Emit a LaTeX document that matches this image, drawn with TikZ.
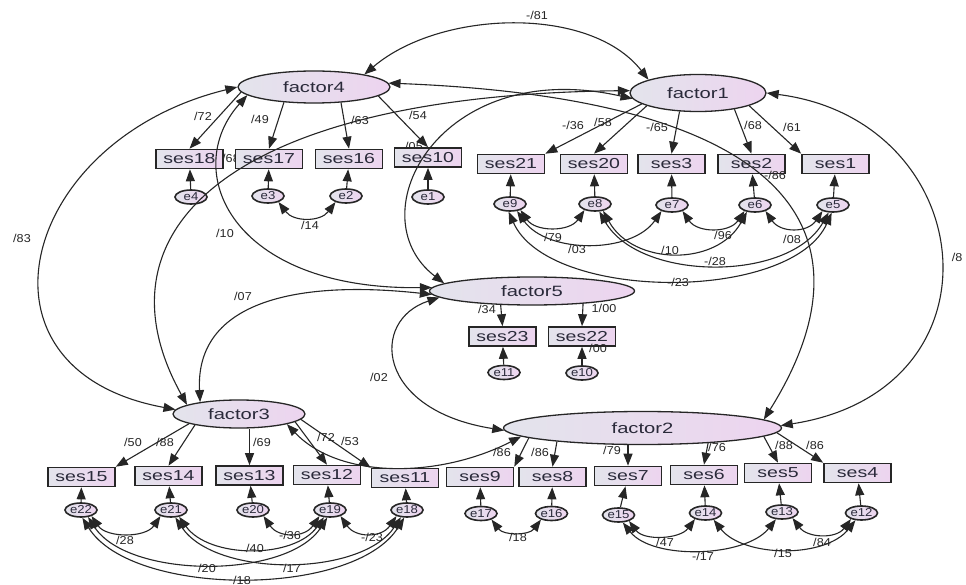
\documentclass[tikz,border=0pt]{standalone}
\usepackage{fontspec}
\setmainfont{Liberation Sans}
\usepackage{graphicx}
\usetikzlibrary{arrows.meta,shapes.geometric,calc}
\definecolor{lc}{HTML}{262626}
\definecolor{gl}{HTML}{E3E4EC}
\definecolor{gr}{HTML}{EDD4EF}
\definecolor{tx}{HTML}{2A2A3A}
\newcommand{\stx}[2]{\scalebox{#1}[1]{#2}}
\tikzset{
  base/.style={draw=lc, text=tx, inner sep=0pt, left color=gl, right color=gr},
  fac/.style={base, ellipse, line width=1.3bp, font=\fontsize{15}{15}\selectfont},
  obs/.style={base, rectangle, line width=1.6bp, minimum width=67bp, minimum height=19bp, font=\fontsize{14.5}{14.5}\selectfont},
  err/.style={base, ellipse, line width=1.6bp, minimum width=32bp, minimum height=14bp, font=\fontsize{11.5}{11.5}\selectfont},
  ld/.style={-{Triangle[length=12bp,width=9bp]}, draw=lc, line width=1.1bp},
  cv/.style={{Triangle[length=12bp,width=9bp]}-{Triangle[length=12bp,width=9bp]}, draw=lc, line width=1.1bp},
  lab/.style={font=\fontsize{11.5}{11.5}\selectfont, text=lc, inner sep=0pt}
}
\begin{document}
\begin{tikzpicture}[x=1bp,y=-1bp]
\useasboundingbox (0,0) rectangle (966,585);
\fill[white] (0,0) rectangle (966,585);
% partly hidden labels
\node[lab] (r18) at (231,158) {\stx{1.1}{/68}};
\node[lab] (r10) at (414,146) {\stx{1.1}{/05}};
% factors
\node[fac,minimum width=152bp,minimum height=32bp] (f4) at (314,87) {\stx{1.35}{factor4}};
\node[fac,minimum width=136bp,minimum height=37bp] (f1) at (698,93) {\stx{1.35}{factor1}};
\node[fac,minimum width=205bp,minimum height=28bp] (f5) at (532,291) {\stx{1.35}{factor5}};
\node[fac,minimum width=132bp,minimum height=28bp] (f3) at (239,414) {\stx{1.35}{factor3}};
\node[fac,minimum width=278bp,minimum height=33bp] (f2) at (642.5,428) {\stx{1.35}{factor2}};
% observed
\node[obs] (ses18) at (189.5,159) {\stx{1.35}{ses18}};
\node[obs] (ses17) at (269,159) {\stx{1.35}{ses17}};
\node[obs] (ses16) at (349,159) {\stx{1.35}{ses16}};
\node[obs] (ses10) at (428,157.5) {\stx{1.35}{ses10}};
\node[obs] (ses21) at (511,164) {\stx{1.35}{ses21}};
\node[obs] (ses20) at (594,164) {\stx{1.35}{ses20}};
\node[obs] (ses3) at (671.5,164) {\stx{1.35}{ses3}};
\node[obs] (ses2) at (751.5,164) {\stx{1.35}{ses2}};
\node[obs] (ses1) at (835.5,164) {\stx{1.35}{ses1}};
\node[obs] (ses23) at (502.5,336.5) {\stx{1.35}{ses23}};
\node[obs] (ses22) at (582,336.5) {\stx{1.35}{ses22}};
\node[obs] (ses15) at (81.5,477) {\stx{1.35}{ses15}};
\node[obs] (ses14) at (168.5,476) {\stx{1.35}{ses14}};
\node[obs] (ses13) at (249.5,475.5) {\stx{1.35}{ses13}};
\node[obs] (ses12) at (327,475) {\stx{1.35}{ses12}};
\node[obs] (ses11) at (405,478) {\stx{1.35}{ses11}};
\node[obs] (ses9) at (480,477) {\stx{1.35}{ses9}};
\node[obs] (ses8) at (552.5,477) {\stx{1.35}{ses8}};
\node[obs] (ses7) at (628,476) {\stx{1.35}{ses7}};
\node[obs] (ses6) at (704,475) {\stx{1.35}{ses6}};
\node[obs] (ses5) at (778,473) {\stx{1.35}{ses5}};
\node[obs] (ses4) at (857.5,473) {\stx{1.35}{ses4}};
% errors
\node[err] (e4) at (191,197) {\stx{1.15}{e4}};
\node[err] (e3) at (268,196) {\stx{1.15}{e3}};
\node[err] (e2) at (346,196) {\stx{1.15}{e2}};
\node[err] (e1) at (428,197) {\stx{1.15}{e1}};
\node[err] (e9) at (510,204) {\stx{1.15}{e9}};
\node[err] (e8) at (595,204) {\stx{1.15}{e8}};
\node[err] (e7) at (672,205) {\stx{1.15}{e7}};
\node[err] (e6) at (755,205) {\stx{1.15}{e6}};
\node[err] (e5) at (833,205) {\stx{1.15}{e5}};
\node[err] (e11) at (504,372.5) {\stx{1.15}{e11}};
\node[err] (e10) at (582,373) {\stx{1.15}{e10}};
\node[err] (e22) at (81,510) {\stx{1.15}{e22}};
\node[err] (e21) at (171,510) {\stx{1.15}{e21}};
\node[err] (e20) at (253,510) {\stx{1.15}{e20}};
\node[err] (e19) at (330,510) {\stx{1.15}{e19}};
\node[err] (e18) at (407,510) {\stx{1.15}{e18}};
\node[err] (e17) at (481,513.5) {\stx{1.15}{e17}};
\node[err] (e16) at (551.5,513.5) {\stx{1.15}{e16}};
\node[err] (e15) at (618.5,515) {\stx{1.15}{e15}};
\node[err] (e14) at (705.5,513) {\stx{1.15}{e14}};
\node[err] (e13) at (782,512) {\stx{1.15}{e13}};
\node[err] (e12) at (861.5,513) {\stx{1.15}{e12}};
% loadings
\draw[ld] (f4.184) -- (ses18.north);
\draw[ld] (f4.207) -- (ses17.north);
\draw[ld] (f4.330) -- (ses16.north);
\draw[ld] (f4.352) -- (ses10.north);
\draw[ld] (f1.191) -- (ses21.north east);
\draw[ld] (f1.194) -- (ses20.north);
\draw[ld] (f1.225) -- (ses3.north);
\draw[ld] (f1.336) -- (ses2.north);
\draw[ld] (f1.346) -- (ses1.north west);
\draw[ld] (f5.204) -- (ses23.north);
\draw[ld] (f5.346) -- (ses22.north);
\draw[ld] (f3.191) -- (ses15.north east);
\draw[ld] (f3.194) -- (ses14.north);
\draw[ld] (ses13.north |- f3.south) -- (ses13.north);
\draw[ld] (f3.352) -- (ses12.north);
\draw[ld] (f3.355) -- (ses11.north west);
\draw[ld] (f2.185) -- (ses9.north east);
\draw[ld] (f2.189) -- (ses8.north);
\draw[ld] (ses7.north |- f2.south) -- (ses7.north);
\draw[ld] (f2.347) -- (ses6.north);
\draw[ld] (f2.356) -- (ses5.north);
\draw[ld] (f2.358) -- (ses4.north west);
% error arrows
\foreach \e/\s in {e4/ses18,e3/ses17,e2/ses16,e1/ses10,e9/ses21,e8/ses20,e7/ses3,e6/ses2,e5/ses1,e11/ses23,e10/ses22,e22/ses15,e21/ses14,e20/ses13,e19/ses12,e18/ses11,e17/ses9,e16/ses8,e15/ses7,e14/ses6,e13/ses5,e12/ses4}
  \draw[ld] (\e) -- (\s);
% factor covariances
\draw[cv] (f4.14) .. controls (440,10) and (590,5) .. (f1.165);
\draw[cv] (f4.180) .. controls (20,140) and (-40,370) .. (f3.176);
\draw[cv] (f4.187) .. controls (180,170) and (230,290) .. (f5.178);
\draw[cv] (f3.163) .. controls (195,300) and (300,280) .. (f5.182);
\draw[cv] (f1.178) .. controls (230,95) and (90,230) .. (f3.170);
\draw[cv] (f1.185) .. controls (440,55) and (355,215) .. (f5.175);
\draw[cv] (f4.3) .. controls (820,100) and (870,250) .. (f2.4);
\draw[cv] (f1.0) .. controls (980,120) and (1010,390) .. (f2.1);
\draw[cv] (f5.184) .. controls (370,320) and (375,410) .. (f2.181);
\draw[cv] (f3.348) .. controls (340,480) and (440,478) .. (f2.184);
% error covariances
\draw[cv] (e3.-30) .. controls +(15,20) and +(-15,20) .. (e2.-150);
\draw[cv] (e9.-30) .. controls +(15,22) and +(-15,22) .. (e8.-150);
\draw[cv] (e9.-45) .. controls +(30,43) and +(-30,43) .. (e7.-150);
\draw[cv] (e8.-40) .. controls +(30,55) and +(-30,55) .. (e6.-140);
\draw[cv] (e7.-30) .. controls +(15,22) and +(-15,22) .. (e6.-150);
\draw[cv] (e6.-30) .. controls +(15,22) and +(-15,22) .. (e5.-150);
\draw[cv] (e8.-60) .. controls +(40,70) and +(-40,70) .. (e5.-120);
\draw[cv] (e9.-100) .. controls +(40,90) and +(-40,90) .. (e5.-100);
\draw[cv] (e17.-30) .. controls +(12,16) and +(-12,16) .. (e16.-150);
\draw[cv] (e15.-30) .. controls +(15,20) and +(-15,20) .. (e14.-150);
\draw[cv] (e15.-60) .. controls +(30,38) and +(-30,38) .. (e13.-130);
\draw[cv] (e14.-40) .. controls +(30,38) and +(-30,38) .. (e12.-130);
\draw[cv] (e13.-30) .. controls +(15,20) and +(-15,20) .. (e12.-150);
\draw[cv] (e22.-30) .. controls +(15,22) and +(-15,22) .. (e21.-150);
\draw[cv] (e20.-30) .. controls +(15,22) and +(-15,22) .. (e19.-150);
\draw[cv] (e19.-30) .. controls +(15,22) and +(-15,22) .. (e18.-150);
\draw[cv] (e21.-40) .. controls +(30,42) and +(-30,42) .. (e19.-130);
\draw[cv] (e22.-45) .. controls +(40,62) and +(-40,62) .. (e19.-110);
\draw[cv] (e21.-60) .. controls +(40,60) and +(-40,60) .. (e18.-130);
\draw[cv] (e22.-80) .. controls +(50,80) and +(-50,80) .. (e18.-110);
% labels
\foreach \p/\t in {{537,15}/{-/81},{22,238}/{/83},{225,233}/{/10},{243,296}/{/07},{379,377}/{/02},{957,257}/{/8},
  {203,116}/{/72},{260,119}/{/49},{360,120}/{/63},{418,115}/{/54},
  {573,125}/{-/36},{603,122}/{/58},{657,127}/{-/65},{753,125}/{/68},{792,127}/{/61},{775,175}/{-/86},
  {487,309}/{/34},{604,308}/{1/00},{598,348}/{/00},
  {133,442}/{/50},{165,442}/{/88},{262,442}/{/69},{326,437}/{/72},{350,441}/{/53},
  {502,452}/{/86},{540,452}/{/86},{612,450}/{/79},{717,447}/{/76},{784,445}/{/88},{815,445}/{/86},
  {310,225}/{/14},
  {553,237}/{/79},{577,249}/{/03},{670,250}/{/10},{723,235}/{/96},{792,239}/{/08},{715,261}/{-/28},{678,282}/{-/23},
  {518,537}/{/18},{665,542}/{/47},{703,556}/{-/17},{783,553}/{/15},{822,542}/{/84},
  {125,540}/{/28},{290,535}/{-/36},{372,537}/{-/23},{255,548}/{/40},{207,568}/{/20},{292,568}/{/17},{242,580}/{/18}}
  \node[lab] at (\p) {\stx{1.1}{\t}};
\end{tikzpicture}
\end{document}
